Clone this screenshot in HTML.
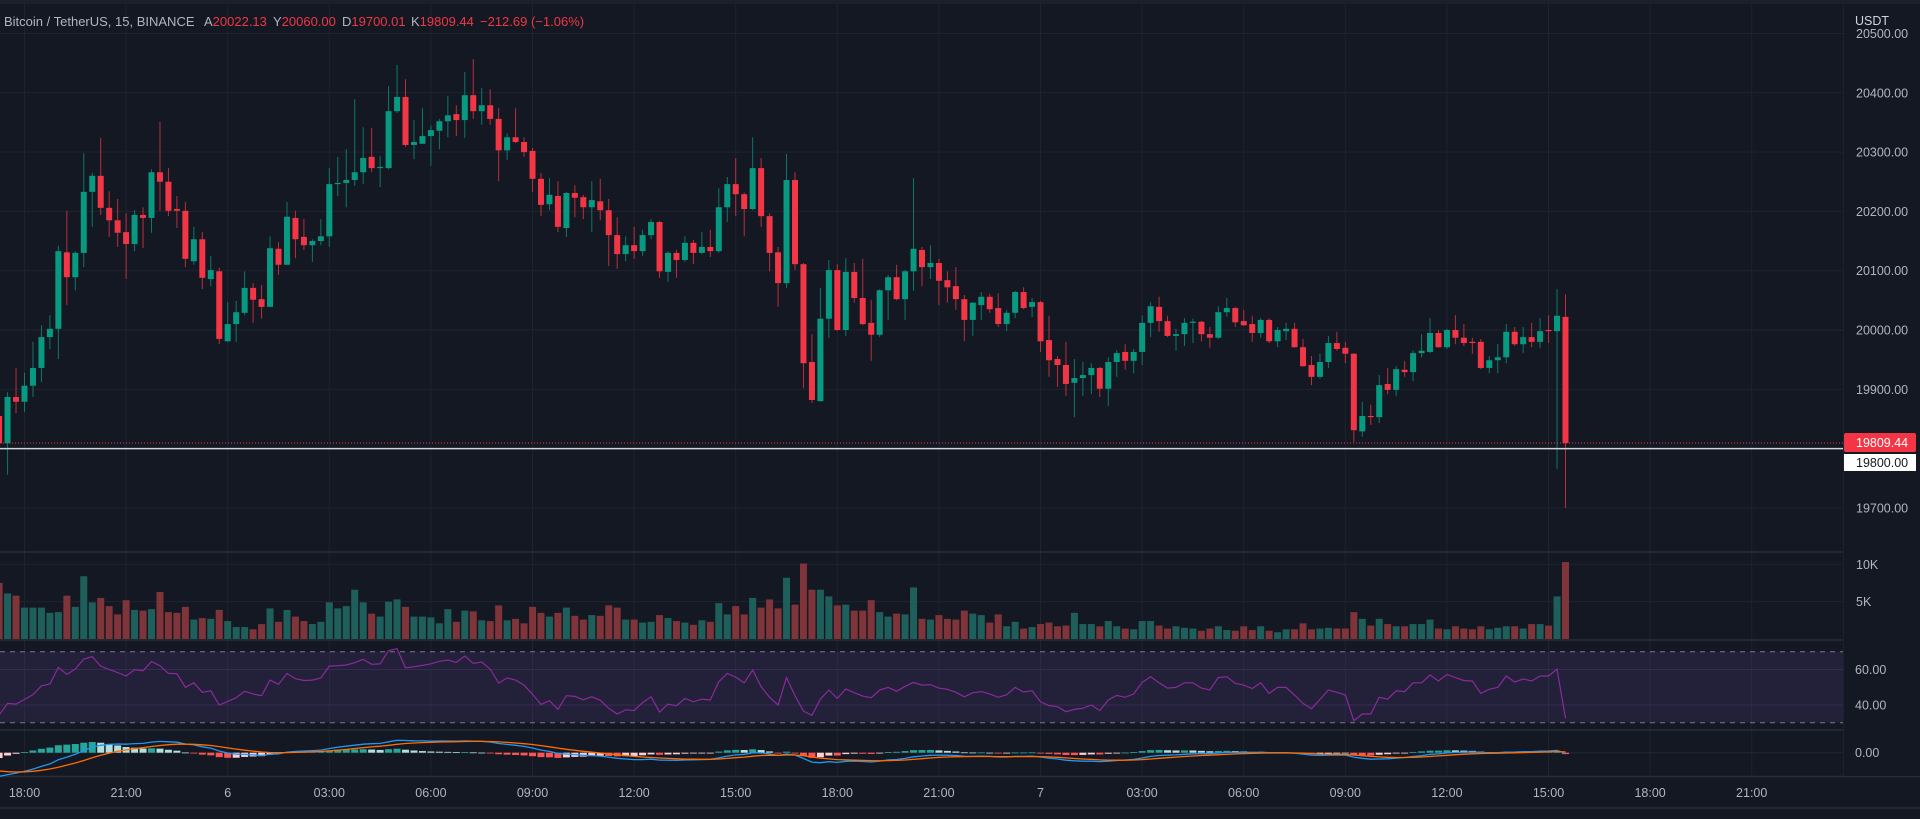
<!DOCTYPE html>
<html><head><meta charset="utf-8"><style>
html,body{margin:0;padding:0;background:#141823;width:1920px;height:819px;overflow:hidden}
svg{display:block;font-family:"Liberation Sans",sans-serif}
</style></head><body>
<svg id="chart" width="1920" height="819" viewBox="0 0 1920 819" xmlns="http://www.w3.org/2000/svg">
<rect x="0" y="0" width="1920" height="819" fill="#141823"/>
<rect x="0" y="0" width="1920" height="4" fill="#1c202b"/>
<g id="grid"></g>
<rect x="0" y="651.7" width="1843" height="71" fill="rgba(126,87,194,0.14)"/>
<g id="panes"></g>
<g id="vol"></g>
<g id="candles"></g>
<g id="rsi"></g>
<g id="macd"></g>
<g id="axis"></g>
<g id="taxis"></g>
<text x="4" y="26" font-size="13" fill="#b2b5be">Bitcoin / TetherUS, 15, BINANCE</text>
<text x="204" y="26" font-size="13" fill="#b2b5be">A<tspan fill="#f23645">20022.13</tspan><tspan x="273">Y</tspan><tspan fill="#f23645">20060.00</tspan><tspan x="342">D</tspan><tspan fill="#f23645">19700.01</tspan><tspan x="411">K</tspan><tspan fill="#f23645">19809.44</tspan><tspan x="480" fill="#f23645">−212.69 (−1.06%)</tspan></text>
</svg>
<script>
const opens=[19855,19809,19887,19879,19906,19936,19988,20002,20131,20089,20130,20233,20260,20206,20185,20165,20145,20194,20189,20266,20250,20204,20201,20116,20153,20086,20099,19981,20010,20029,20071,20052,20039,20137,20110,20189,20157,20143,20150,20158,20246,20248,20253,20266,20292,20273,20273,20369,20393,20312,20314,20327,20336,20352,20364,20354,20396,20369,20379,20356,20303,20325,20317,20302,20255,20212,20226,20172,20231,20224,20207,20217,20202,20160,20128,20143,20133,20160,20182,20098,20130,20118,20147,20130,20140,20133,20207,20246,20229,20204,20273,20192,20131,20079,20253,20111,19946,19880,20019,20101,20000,20098,20054,20012,19992,20067,20089,20052,20099,20135,20106,20113,20084,20074,20052,20017,20042,20056,20037,20010,20029,20064,20039,20047,19983,19951,19941,19911,19919,19924,19936,19901,19946,19963,19948,19963,20012,20039,20015,19990,19993,20012,20014,19993,19987,20030,20037,20015,20010,19995,20017,19981,19998,20002,19971,19941,19921,19946,19978,19970,19960,19829,19855,19853,19909,19899,19933,19929,19961,19963,19995,19971,20000,19987,19980,19980,19936,19949,19954,19997,19976,19988,19980,20000,19998,20022.13];
const highs=[19865,19895,19936,19928,19980,20008,20025,20142,20201,20133,20298,20265,20324,20234,20221,20197,20202,20207,20271,20351,20273,20226,20216,20174,20165,20125,20105,20047,20049,20099,20079,20076,20158,20148,20216,20201,20187,20153,20187,20273,20292,20305,20389,20342,20341,20293,20411,20447,20423,20354,20374,20345,20356,20395,20379,20435,20457,20408,20406,20374,20332,20374,20325,20307,20265,20256,20251,20233,20244,20228,20251,20255,20221,20190,20158,20174,20169,20187,20184,20133,20135,20158,20152,20165,20169,20239,20258,20290,20232,20325,20290,20197,20140,20297,20266,20113,19993,20071,20118,20111,20121,20113,20120,20051,20069,20093,20110,20101,20256,20140,20143,20120,20099,20106,20059,20047,20064,20061,20062,20034,20066,20072,20054,20049,20024,19956,19980,19951,19946,19944,19938,19954,19966,19976,19968,20025,20047,20056,20024,20002,20020,20019,20015,20005,20040,20054,20039,20034,20024,20020,20020,20005,20012,20012,19985,19956,19960,19990,19997,19980,19961,19879,19874,19924,19936,19939,19948,19966,19993,20020,20000,20002,20025,20010,19987,19985,19956,19976,20010,20005,20005,20012,20020,20025,20069,20060];
const lows=[19801,19756,19860,19862,19887,19912,19968,19951,20042,20067,20106,20174,20194,20157,20140,20086,20133,20138,20164,20201,20192,20172,20106,20110,20069,20074,19976,19980,19980,20025,20012,20019,20039,20093,20110,20121,20135,20115,20143,20140,20226,20207,20243,20246,20266,20241,20271,20366,20309,20288,20314,20277,20305,20325,20327,20324,20356,20346,20346,20251,20287,20315,20292,20233,20192,20202,20165,20157,20190,20187,20165,20185,20108,20103,20116,20120,20125,20153,20088,20081,20088,20115,20111,20128,20123,20130,20182,20192,20158,20202,20174,20099,20039,20071,20101,19902,19877,19879,19987,19998,19990,20046,20008,19948,19988,20017,20050,20017,20066,20074,20086,20042,20046,20034,19981,19990,20017,20029,20005,19998,20020,20035,20022,19963,19921,19904,19889,19853,19889,19892,19887,19872,19921,19933,19927,19941,19988,19997,19988,19965,19973,19978,19981,19970,19985,20022,20005,20007,19980,19987,19978,19971,19983,19970,19938,19907,19918,19936,19965,19944,19811,19820,19840,19843,19892,19889,19921,19914,19954,19961,19970,19968,19976,19973,19960,19934,19927,19927,19944,19973,19961,19971,19970,19978,19766,19700.01];
const closes=[19809,19887,19879,19906,19936,19988,20002,20133,20089,20130,20233,20260,20206,20185,20164,20145,20194,20189,20266,20250,20201,20201,20120,20153,20088,20101,19985,20010,20030,20071,20051,20039,20138,20110,20191,20153,20143,20150,20158,20246,20248,20253,20266,20290,20273,20275,20369,20393,20312,20317,20327,20337,20352,20362,20354,20396,20369,20379,20356,20303,20325,20317,20300,20255,20211,20228,20174,20231,20223,20207,20219,20202,20160,20128,20143,20133,20160,20182,20099,20130,20118,20147,20130,20140,20133,20207,20246,20229,20204,20273,20192,20130,20079,20253,20111,19944,19882,20019,20101,20000,20098,20054,20010,19992,20067,20089,20052,20099,20137,20106,20113,20083,20072,20052,20017,20046,20056,20035,20010,20029,20064,20037,20047,19981,19949,19941,19909,19919,19924,19936,19901,19946,19961,19948,19963,20012,20040,20015,19990,19993,20012,20014,19993,19987,20030,20037,20013,20008,19995,20017,19981,20000,20002,19971,19939,19921,19946,19978,19968,19960,19831,19855,19853,19907,19899,19934,19929,19961,19965,19995,19971,20000,19987,19978,19978,19936,19949,19954,19997,19976,19988,19980,19998,19998,20024,19809.44];
const volumesK=[7.5,6.1,5.8,4.2,4.2,4.2,3.5,3.6,5.8,4.3,8.4,4.9,5.5,4.4,3.3,5.2,3.9,3.8,4.0,6.3,3.6,3.5,4.3,2.6,2.8,2.7,3.9,2.4,1.6,1.6,1.3,2.0,4.1,2.3,3.9,3.0,2.4,2.0,2.3,4.9,4.1,4.4,6.6,4.9,3.4,3.0,5.0,5.3,4.3,3.0,3.0,2.9,2.1,4.0,2.3,3.8,3.7,2.5,2.4,4.5,2.5,2.7,2.1,4.3,3.5,3.0,3.5,4.2,3.1,2.6,3.2,3.1,4.5,4.2,2.6,2.6,2.2,2.3,3.2,2.8,2.4,2.2,1.9,2.5,2.3,4.8,3.3,4.4,3.3,5.5,4.2,5.3,4.1,8.2,4.6,10.1,6.6,6.6,5.7,4.5,4.6,3.8,3.8,5.2,3.6,3.0,3.4,3.3,6.9,2.7,2.6,3.2,2.7,2.6,3.8,3.4,3.2,2.2,3.3,1.7,2.3,1.4,1.6,2.0,2.2,1.7,1.8,3.5,2.0,2.0,1.7,2.4,1.7,1.4,1.3,2.4,2.4,1.8,1.4,1.7,1.5,1.4,1.1,1.4,1.7,1.2,1.1,1.7,1.2,1.7,1.1,0.9,1.3,1.3,2.1,1.3,1.4,1.5,1.4,1.4,3.6,2.7,1.8,2.7,2.0,1.7,1.7,2.0,2.0,2.6,1.4,1.3,1.7,1.4,1.3,1.7,1.3,1.5,1.7,1.7,1.4,2.0,2.0,1.8,5.7,10.3];
const rsiValues=[34.3,40.9,40.5,43.1,45.8,50.8,51.8,61.2,57.2,60.2,65.9,67.2,61.9,60.0,58.2,56.3,59.9,59.3,64.4,62.1,57.8,57.6,49.9,52.5,47.1,48.0,40.0,42.0,44.1,47.7,46.2,45.2,54.0,51.6,57.8,54.8,53.8,54.0,55.2,61.9,62.1,62.5,63.8,65.7,62.9,63.1,70.6,71.7,61.0,61.5,62.3,63.2,64.6,65.3,64.0,67.6,63.4,64.2,60.2,52.3,55.2,54.0,51.2,46.0,40.3,42.4,37.5,45.2,44.8,42.9,44.6,42.6,38.1,34.9,37.3,36.8,41.3,44.6,36.0,40.5,39.6,43.7,41.8,43.3,42.8,53.1,57.8,55.7,52.5,59.7,50.3,44.3,40.0,55.4,45.2,36.6,34.1,43.3,48.4,43.7,49.0,46.9,45.0,44.1,48.4,49.9,47.7,50.5,52.7,51.2,51.4,49.5,48.8,47.1,44.6,46.9,47.5,46.2,44.3,45.8,49.9,47.3,48.0,41.8,39.6,39.0,36.2,37.5,38.1,40.0,36.8,42.8,45.4,44.3,46.2,52.7,55.9,52.5,49.5,49.9,52.5,52.5,49.5,48.4,55.4,55.9,52.2,51.2,49.2,52.5,46.5,49.9,49.9,45.6,40.9,37.9,43.1,48.4,47.1,45.6,31.1,34.9,34.9,44.3,43.3,48.0,47.5,52.5,52.5,56.9,53.5,57.2,55.4,53.7,53.5,46.5,48.8,49.9,56.3,52.9,54.6,53.5,56.3,56.3,60.2,32.4];
const macdSeeds=[90,210,-85];
const priceTicks=[20500,20400,20300,20200,20100,20000,19900,19700];
const timeLabels=["18:00","21:00","6","03:00","06:00","09:00","12:00","15:00","18:00","21:00","7","03:00","06:00","09:00","12:00","15:00","18:00","21:00"];
const volTicks=[10,5];
const volTickLabels=["10K","5K"];
const rsiTicks=[60,40];

const NS="http://www.w3.org/2000/svg";
const PLOT_W=1843;
function mk(tag,attrs,parent){const e=document.createElementNS(NS,tag);for(const k in attrs)e.setAttribute(k,attrs[k]);parent.appendChild(e);return e;}
const xOf=i=>24.5+(i-3)*8.467;
const yPrice=p=>330-(p-20000)*0.593;
const yVol=v=>639-v*7.47;
const yRsi=r=>651.7+(70-r)*1.775;
const yMacd=m=>752.7-m*0.2;
const GREEN="#089981",RED="#f23645";

const grid=document.getElementById('grid');
timeLabels.forEach((t,k)=>{const x=24.5+k*101.6;if(x<PLOT_W){const l=mk('line',{x1:x,x2:x,y1:4,y2:776,stroke:'#1f2330','stroke-width':1},grid);

}});
priceTicks.concat([19800]).forEach(p=>{const y=yPrice(p);const l=mk('line',{x1:0,x2:PLOT_W,y1:y,y2:y,stroke:'#1f2330','stroke-width':1},grid);

});
volTicks.forEach(v=>{const y=yVol(v*1);const l=mk('line',{x1:0,x2:PLOT_W,y1:y,y2:y,stroke:'#1f2330'},grid);

});
rsiTicks.forEach(r=>{const y=yRsi(r);const l=mk('line',{x1:0,x2:PLOT_W,y1:y,y2:y,stroke:'#2c2540'},grid);

});
{const l=mk('line',{x1:0,x2:PLOT_W,y1:752.7,y2:752.7,stroke:'#232733'},grid);

}

const panes=document.getElementById('panes');
[552,640,730,776.5,808].forEach(y=>{const l=mk('line',{x1:0,x2:1920,y1:y,y2:y,stroke:'#2a2e39','stroke-width':1.5},panes);

});
{const l=mk('line',{x1:PLOT_W+0.5,x2:PLOT_W+0.5,y1:4,y2:776,stroke:'#1e222c'},panes);

}
[651.7,722.7].forEach(y=>{const l=mk('line',{x1:0,x2:PLOT_W,y1:y,y2:y,stroke:'#787b86','stroke-dasharray':'5,5'},panes);

});

const vol=document.getElementById('vol');
volumesK.forEach((v,i)=>{const x=xOf(i);const up=closes[i]>=opens[i];const y=yVol(v);
const r=mk('rect',{x:x-3.5,y:y,width:7,height:639-y,fill:up?'#1f5f5b':'#7e3438'},vol);

});

const cg=document.getElementById('candles');
opens.forEach((o,i)=>{const c=closes[i],x=xOf(i),up=c>=o,col=up?GREEN:RED;
const w=mk('line',{x1:x,x2:x,y1:yPrice(highs[i]),y2:yPrice(lows[i]),stroke:col,'stroke-width':1,'stroke-opacity':0.75},cg);


const top=Math.min(yPrice(o),yPrice(c)),h=Math.max(1,Math.abs(yPrice(o)-yPrice(c)));
const b=mk('rect',{x:x-3,y:top,width:6,height:h,fill:col},cg);

});

{const yc=yPrice(closes[closes.length-1]);
const d=mk('line',{x1:0,x2:PLOT_W,y1:yc,y2:yc,stroke:RED,'stroke-dasharray':'1,2','stroke-width':1},cg);


const hy=yPrice(19800);
const hl=mk('line',{x1:0,x2:PLOT_W,y1:hy,y2:hy,stroke:'#d1d4dc','stroke-width':1.5},cg);

}

const rg=document.getElementById('rsi');
{const pts=rsiValues.map((r,i)=>xOf(i).toFixed(1)+','+yRsi(r).toFixed(1)).join(' ');
const p=mk('polyline',{points:pts,fill:'none',stroke:'#8a2a9c','stroke-width':1.2},rg);

}

const mg=document.getElementById('macd');
{let f=closes[0]+macdSeeds[0],s=closes[0]+macdSeeds[1],sig=macdSeeds[2];
const kf=2/13,ks=2/27,kg=2/10;const M=[],S=[],H=[];
closes.forEach(c=>{f=f+(c-f)*kf;s=s+(c-s)*ks;const m=f-s;sig=sig+(m-sig)*kg;M.push(m);S.push(sig);H.push(m-sig);});
H.forEach((h,i)=>{const prev=i>0?H[i-1]:h;let col;
if(h>=0)col=h>=prev?'#26a69a':'#b2dfdb';else col=h<prev?'#ff5252':'#ffcdd2';
const y0=yMacd(0),y1=yMacd(h);
const r=mk('rect',{x:xOf(i)-3.5,y:Math.min(y0,y1),width:7,height:Math.max(0.8,Math.abs(y1-y0)),fill:col},mg);

});
const ml=mk('polyline',{points:M.map((m,i)=>xOf(i).toFixed(1)+','+yMacd(m).toFixed(1)).join(' '),fill:'none',stroke:'#2196f3','stroke-width':1.3},mg);


const sl=mk('polyline',{points:S.map((m,i)=>xOf(i).toFixed(1)+','+yMacd(m).toFixed(1)).join(' '),fill:'none',stroke:'#ff6d00','stroke-width':1.3},mg);

}

const ax=document.getElementById('axis');
{const bg=mk('rect',{x:1844,y:4,width:76,height:772,fill:'#141823'},ax);

}
priceTicks.forEach(p=>{const t=mk('text',{x:1856,y:yPrice(p)+4.5,'font-size':12.5,fill:'#b2b5be'},ax);t.textContent=p.toFixed(2);

});
{const r=mk('rect',{x:1844,y:10,width:76,height:19,fill:'#141823'},ax);


const t=mk('text',{x:1855,y:25,'font-size':12.5,fill:'#d1d4dc'},ax);t.textContent='USDT';

}
volTicks.forEach((v,k)=>{const t=mk('text',{x:1856,y:yVol(v)+4.5,'font-size':12.5,fill:'#b2b5be'},ax);t.textContent=volTickLabels[k];

});
rsiTicks.forEach(r=>{const t=mk('text',{x:1855,y:yRsi(r)+4.5,'font-size':12.5,fill:'#b2b5be'},ax);t.textContent=r.toFixed(2);

});
{const t=mk('text',{x:1855,y:757,'font-size':12.5,fill:'#b2b5be'},ax);t.textContent='0.00';

}
{const r=mk('rect',{x:1844,y:433,width:72,height:19,rx:2,fill:RED},ax);


const t=mk('text',{x:1856,y:447,'font-size':12.5,fill:'#ffffff'},ax);t.textContent=closes[closes.length-1].toFixed(2);


const r2=mk('rect',{x:1844,y:454,width:72,height:17,fill:'#ffffff'},ax);


const t2=mk('text',{x:1856,y:467,'font-size':12.5,fill:'#131722'},ax);t2.textContent='19800.00';

}

const ta=document.getElementById('taxis');
timeLabels.forEach((s,k)=>{const x=24.5+k*101.6;if(x<PLOT_W){const t=mk('text',{x:x,y:797,'font-size':12.5,fill:'#b2b5be','text-anchor':'middle'},ta);t.textContent=s;

}});
</script>
</body></html>
